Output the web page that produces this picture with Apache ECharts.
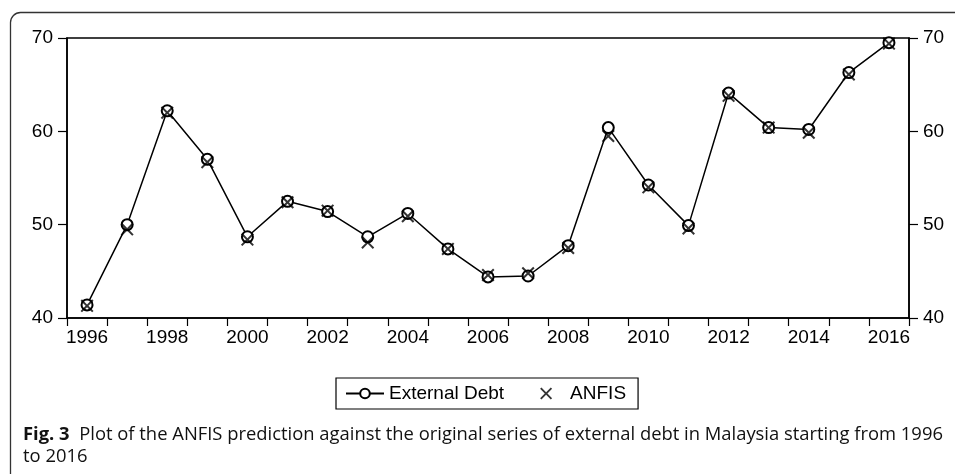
<!DOCTYPE html>
<html>
<head>
<meta charset="utf-8">
<script src="https://cdn.jsdelivr.net/npm/echarts@6/dist/echarts.min.js"></script>
<style>
html,body{margin:0;padding:0;background:#fff;}
#c{width:955px;height:474px;}
</style>
</head>
<body>
<div id="c"></div>
<script>
const years = ['1996','1997','1998','1999','2000','2001','2002','2003','2004','2005','2006','2007','2008','2009','2010','2011','2012','2013','2014','2015','2016'];
const externalDebt = [41.4, 50.0, 62.2, 57.0, 48.7, 52.5, 51.4, 48.7, 51.2, 47.4, 44.4, 44.5, 47.75, 60.4, 54.25, 49.9, 64.1, 60.4, 60.2, 66.3, 69.5];
const anfis = [41.3, 49.5, 62.0, 56.7, 48.4, 52.4, 51.5, 48.1, 50.9, 47.4, 44.6, 44.8, 47.5, 59.5, 54.0, 49.6, 63.8, 60.4, 59.85, 66.1, 69.4];
const seriesNames = ['External Debt', 'ANFIS'];
const yTicks = {min: 40, max: 70, interval: 10};
const captionBold = 'Fig. 3';
const captionLine1 = 'Plot of the ANFIS prediction against the original series of external debt in Malaysia starting from 1996';
const captionLine2 = 'to 2016';

const xPath = 'path://M0,11L11,0L50,39L89,0L100,11L61,50L100,89L89,100L50,61L11,100L0,89L39,50Z';
const F = '"Liberation Sans", Arial, Helvetica, sans-serif';
const CF = '"Open Sans", "Noto Sans", sans-serif';

const chart = echarts.init(document.getElementById('c'), null, {renderer: 'canvas'});
const yAxisBase = {
  type: 'value', min: yTicks.min, max: yTicks.max, interval: yTicks.interval,
  splitLine: {show: false},
  axisLine: {show: true, lineStyle: {color: '#000', width: 1.5}},
  axisTick: {show: true, length: 9, lineStyle: {color: '#000', width: 1.2}},
  axisLabel: {color: '#000', fontSize: 19, fontFamily: F, margin: 14}
};
chart.setOption({
  animation: false,
  backgroundColor: '#fff',
  grid: {left: 67, right: 46, top: 38, bottom: 156, show: true, borderColor: '#000', borderWidth: 1.5, containLabel: false},
  xAxis: {
    type: 'category', data: years, boundaryGap: true,
    axisLine: {show: true, lineStyle: {color: '#000', width: 1.5}},
    axisTick: {show: true, interval: 0, length: 8, lineStyle: {color: '#000', width: 1.2}},
    axisLabel: {interval: 1, color: '#000', fontSize: 19, fontFamily: F, margin: 10},
    splitLine: {show: false}
  },
  yAxis: [
    Object.assign({position: 'left'}, yAxisBase),
    Object.assign({position: 'right'}, yAxisBase)
  ],
  legend: {
    left: 336, top: 378,
    data: [{name: seriesNames[0]}, {name: seriesNames[1], icon: xPath}],
    borderColor: '#000', borderWidth: 1.2, borderRadius: 0,
    padding: [6, 12, 6, 9],
    itemWidth: 38, itemHeight: 12, itemGap: 36,
    textStyle: {color: '#000', fontSize: 19, fontFamily: F}
  },
  series: [
    {
      name: seriesNames[0], type: 'line', data: externalDebt,
      symbol: 'emptyCircle', symbolSize: 11,
      lineStyle: {color: '#000', width: 1.5},
      itemStyle: {color: '#000', borderColor: '#000', borderWidth: 1.1},
      z: 2
    },
    {
      name: seriesNames[1], type: 'scatter', data: anfis,
      symbol: xPath, symbolSize: 13,
      itemStyle: {color: '#000'},
      z: 3
    }
  ],
  graphic: [
    {type: 'rect', left: 8, top: 10, shape: {width: 1000, height: 600, r: 10}, style: {fill: 'none', stroke: '#333', lineWidth: 1.3}, silent: true},
    {type: 'text', left: 23, top: 426, style: {
      text: '{b|' + captionBold + '}  ' + captionLine1,
      rich: {b: {fontWeight: 'bold', fontSize: 18.4, fontFamily: CF, fill: '#111'}},
      fontSize: 18.4, fontFamily: CF, fill: '#111'
    }},
    {type: 'text', left: 23, top: 448, style: {
      text: captionLine2, fontSize: 18.4, fontFamily: CF, fill: '#111'
    }}
  ]
});
</script>
</body>
</html>
